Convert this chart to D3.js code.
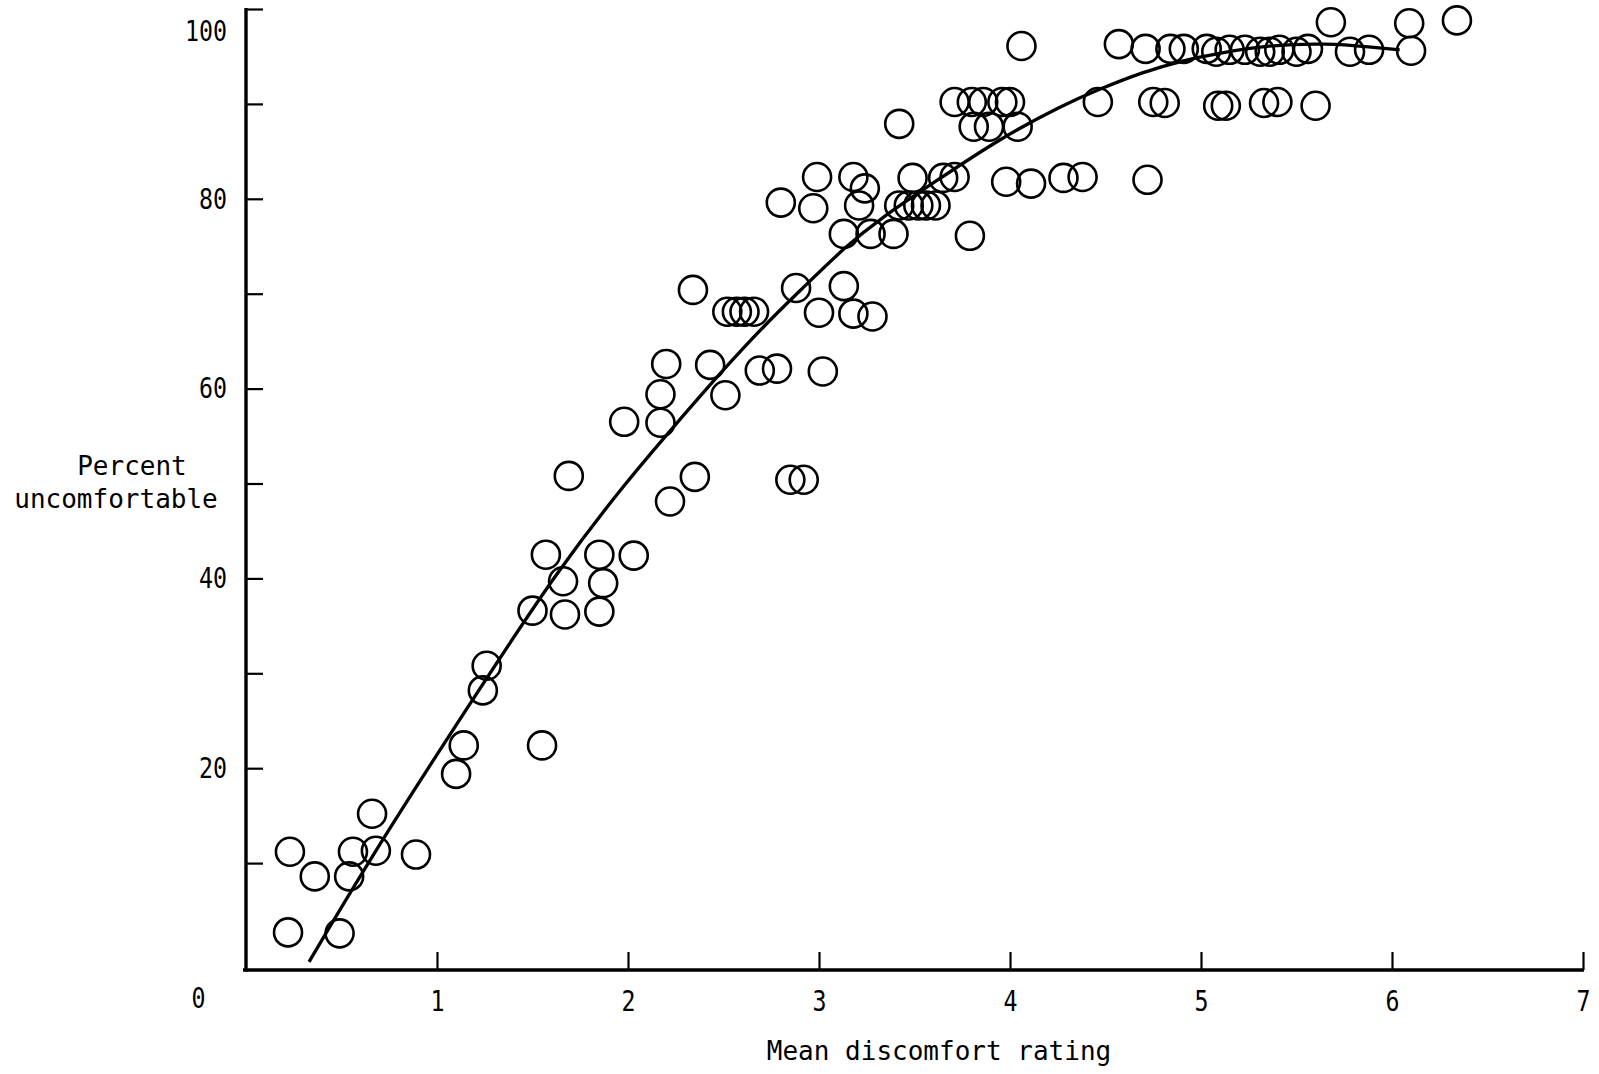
<!DOCTYPE html>
<html>
<head>
<meta charset="utf-8">
<script src="https://cdn.jsdelivr.net/npm/d3@7"></script>
<style>
  html, body { margin: 0; padding: 0; background: #fff; }
  svg { display: block; }
  text { font-family: "DejaVu Sans Mono", "Liberation Mono", monospace; fill: #000; }
</style>
</head>
<body>
<svg id="chart" width="1599" height="1074"></svg>
<script>
// ---- data ----
const xTickValues = [0, 1, 2, 3, 4, 5, 6, 7];
const xTickLabels = ["0", "1", "2", "3", "4", "5", "6", "7"];
const yTickValues = [10, 20, 30, 40, 50, 60, 70, 80, 90, 100];
const yTickLabels = ["", "20", "", "40", "", "60", "", "80", "", "100"];
const xTitle = "Mean discomfort rating";
const yTitleLines = ["Percent", "uncomfortable"];

// Mean discomfort rating of each observation
const ratingValues = [
  0.23, 0.22, 0.36, 0.49, 0.54, 0.56, 0.66, 0.68, 0.89, 1.10,
  1.14, 1.24, 1.26, 1.55, 1.50, 1.57, 1.66, 1.67, 1.69, 1.85,
  1.87, 1.85, 1.98, 2.03, 2.17, 2.17, 2.20, 2.22, 2.34, 2.35,
  2.43, 2.51, 2.52, 2.57, 2.61, 2.66, 2.69, 2.78, 2.80, 2.85,
  2.88, 2.92, 2.97, 2.99, 3.00, 3.02, 3.13, 3.13, 3.18, 3.18,
  3.21, 3.24, 3.27, 3.28, 3.39, 3.42, 3.42, 3.47, 3.49, 3.52,
  3.56, 3.61, 3.65, 3.71, 3.71, 3.79, 3.80, 3.81, 3.86, 3.89,
  3.96, 3.98, 4.00, 4.04, 4.06, 4.11, 4.28, 4.38, 4.46, 4.57,
  4.71, 4.72, 4.75, 4.81, 4.84, 4.91, 5.03, 5.08, 5.09, 5.13,
  5.15, 5.23, 5.31, 5.33, 5.36, 5.40, 5.41, 5.50, 5.56, 5.60,
  5.68, 5.78, 5.88, 6.09, 6.10, 6.34
];
// Percent uncomfortable of each observation
const percentValues = [
  11.2, 2.7, 8.6, 2.6, 8.6, 11.2, 15.2, 11.3, 10.9, 19.4,
  22.4, 28.2, 30.8, 22.4, 36.6, 42.5, 39.7, 36.2, 50.8, 42.5,
  39.5, 36.5, 56.5, 42.4, 59.4, 56.4, 62.6, 48.1, 70.4, 50.7,
  62.5, 59.3, 68.1, 68.1, 68.1, 68.1, 61.9, 62.1, 79.6, 50.4,
  70.6, 50.4, 79.0, 82.3, 68.0, 61.8, 76.3, 70.8, 67.9, 82.3,
  79.3, 81.1, 76.3, 67.6, 76.3, 79.3, 87.9, 79.3, 82.2, 79.3,
  79.3, 79.3, 82.2, 82.3, 90.2, 76.1, 90.2, 87.6, 90.2, 87.6,
  90.2, 81.8, 90.2, 87.6, 96.1, 81.6, 82.2, 82.3, 90.2, 96.3,
  95.8, 82.0, 90.2, 90.1, 95.8, 95.8, 95.8, 95.5, 89.8, 89.8,
  95.7, 95.7, 95.5, 90.1, 95.5, 90.2, 95.7, 95.5, 95.8, 89.8,
  98.6, 95.5, 95.7, 98.5, 95.6, 98.8
];

// Fitted curve
const curveRating  = [0.33, 0.72, 1.26, 1.63, 2.00, 2.24, 2.48, 2.74, 2.90, 3.14, 3.32, 3.60, 3.95, 4.28, 4.45, 4.70, 4.91, 5.08, 5.35, 5.66, 5.89, 6.04];
const curvePercent = [-0.4, 12.8, 29.5, 40.8, 50.4, 56.0, 61.6, 67.2, 70.3, 75.0, 77.9, 81.7, 86.4, 89.9, 91.4, 93.4, 94.6, 95.3, 96.2, 96.4, 96.0, 95.7];

// ---- drawing ----
const svg = d3.select("#chart");
const x = d3.scaleLinear().domain([0, 7]).range([246, 1583]);
const y = d3.scaleLinear().domain([0, 100]).range([958, 9]);
const xAxisY = 970;

// X axis
const xAxisG = svg.append("g")
  .attr("transform", `translate(0,${xAxisY})`)
  .call(d3.axisBottom(x)
    .tickValues(xTickValues)
    .tickFormat((d, i) => xTickLabels[i])
    .tickSizeInner(-18)
    .tickSizeOuter(0));
xAxisG.select(".domain").remove();
xAxisG.selectAll(".tick line").attr("stroke", "#000").attr("stroke-width", 2.2);
xAxisG.selectAll(".tick").filter(d => d === 0).select("line").remove();
xAxisG.selectAll(".tick text")
  .attr("y", 41).attr("dy", 0)
  .attr("font-size", 29)
  .attr("font-family", "DejaVu Sans Mono")
  .attr("textLength", function () { return this.textContent.length * 14; })
  .attr("lengthAdjust", "spacingAndGlyphs");
xAxisG.selectAll(".tick").filter(d => d === 0).select("text").attr("x", -48).attr("y", 38);
xAxisG.append("line")
  .attr("x1", x(0) - 3).attr("x2", x(7) + 1)
  .attr("y1", 0).attr("y2", 0)
  .attr("stroke", "#000").attr("stroke-width", 3.4);

// Y axis
const yAxisG = svg.append("g")
  .attr("transform", `translate(${x(0)},0)`)
  .call(d3.axisLeft(y)
    .tickValues(yTickValues)
    .tickFormat((d, i) => yTickLabels[i])
    .tickSizeInner(-17)
    .tickSizeOuter(0)
    .tickPadding(19));
yAxisG.select(".domain").remove();
yAxisG.selectAll(".tick line").attr("stroke", "#000").attr("stroke-width", 2.2);
yAxisG.selectAll(".tick text")
  .attr("font-size", 29)
  .attr("font-family", "DejaVu Sans Mono")
  .attr("textLength", function () { return this.textContent.length * 14; })
  .attr("lengthAdjust", "spacingAndGlyphs");
yAxisG.selectAll(".tick").filter(d => d === 100).select("text").attr("dy", "1.08em");
yAxisG.append("line")
  .attr("x1", 0).attr("x2", 0)
  .attr("y1", y(100) - 1).attr("y2", xAxisY + 1.5)
  .attr("stroke", "#000").attr("stroke-width", 3.4);

// Axis titles
svg.append("text")
  .attr("x", 939).attr("y", 1060)
  .attr("text-anchor", "middle")
  .attr("font-size", 26)
  .text(xTitle);
svg.append("text")
  .attr("x", 132).attr("y", 475)
  .attr("text-anchor", "middle")
  .attr("font-size", 26)
  .text(yTitleLines[0]);
svg.append("text")
  .attr("x", 116).attr("y", 508)
  .attr("text-anchor", "middle")
  .attr("font-size", 26)
  .text(yTitleLines[1]);

// Fitted curve
const curvePts = curveRating.map((r, i) => [r, curvePercent[i]]);
svg.append("path")
  .datum(curvePts)
  .attr("fill", "none")
  .attr("stroke", "#000")
  .attr("stroke-width", 3.3)
  .attr("stroke-linecap", "butt")
  .attr("d", d3.line().x(d => x(d[0])).y(d => y(d[1])).curve(d3.curveBasis));

// Points
const pts = ratingValues.map((r, i) => ({ r, p: percentValues[i] }));
svg.append("g")
  .selectAll("circle")
  .data(pts)
  .join("circle")
  .attr("cx", d => x(d.r))
  .attr("cy", d => y(d.p))
  .attr("r", 14)
  .attr("fill", "none")
  .attr("stroke", "#000")
  .attr("stroke-width", 2.6);
</script>
</body>
</html>
